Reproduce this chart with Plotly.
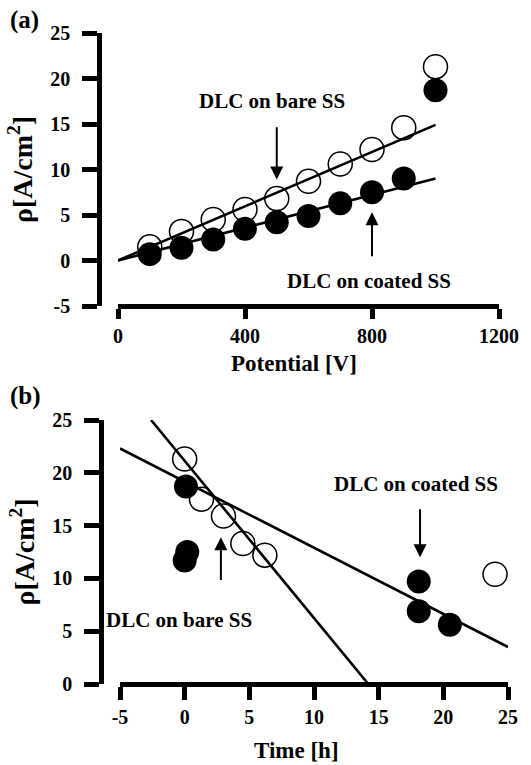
import plotly.graph_objects as go

# ---- Panel (a) data ----
potential = [100, 200, 300, 400, 500, 600, 700, 800, 900, 1000]
rho_bare_a = [1.5, 3.2, 4.5, 5.6, 6.8, 8.7, 10.6, 12.2, 14.6, 21.3]
rho_coated_a = [0.7, 1.4, 2.3, 3.5, 4.2, 4.9, 6.3, 7.5, 9.0, 18.7]
fit_a_x = [0, 1000]
fit_bare_a = [0, 14.9]
fit_coated_a = [0, 9.0]
ticks_a_x = [0, 400, 800, 1200]
ticks_a_y = [-5, 0, 5, 10, 15, 20, 25]

# ---- Panel (b) data ----
time_bare = [0, 1.3, 3.0, 4.5, 6.2, 24.0]
rho_bare_b = [21.3, 17.5, 15.9, 13.3, 12.2, 10.4]
time_coated = [0.1, 0.2, 0.0, 18.1, 18.1, 20.5]
rho_coated_b = [18.7, 12.5, 11.7, 9.7, 6.9, 5.6]
fit_steep_x = [-2.6, 14.2]
fit_steep_y = [25.0, 0.0]
fit_shallow_x = [-5, 25]
fit_shallow_y = [22.3, 3.5]
ticks_b_x = [-5, 0, 5, 10, 15, 20, 25]
ticks_b_y = [0, 5, 10, 15, 20, 25]

W, H = 531, 765
FONT = "Liberation Serif, Times New Roman, serif"
MS = 24

fig = go.Figure()

def line_trace(x, y, xa, ya):
    return go.Scatter(x=x, y=y, mode="lines", line=dict(color="black", width=2.6),
                      xaxis=xa, yaxis=ya, showlegend=False, hoverinfo="skip")

def open_trace(x, y, xa, ya):
    return go.Scatter(x=x, y=y, mode="markers",
                      marker=dict(symbol="circle-open", size=MS, color="black",
                                  line=dict(width=1.5, color="black")),
                      xaxis=xa, yaxis=ya, showlegend=False, cliponaxis=False)

def filled_trace(x, y, xa, ya):
    return go.Scatter(x=x, y=y, mode="markers",
                      marker=dict(symbol="circle", size=MS, color="black",
                                  line=dict(width=0)),
                      xaxis=xa, yaxis=ya, showlegend=False, cliponaxis=False)

# panel (a)
fig.add_trace(line_trace(fit_a_x, fit_bare_a, "x", "y"))
fig.add_trace(line_trace(fit_a_x, fit_coated_a, "x", "y"))
fig.add_trace(open_trace(potential, rho_bare_a, "x", "y"))
fig.add_trace(filled_trace(potential, rho_coated_a, "x", "y"))

# panel (b)
fig.add_trace(line_trace(fit_steep_x, fit_steep_y, "x2", "y2"))
fig.add_trace(line_trace(fit_shallow_x, fit_shallow_y, "x2", "y2"))
fig.add_trace(open_trace(time_bare, rho_bare_b, "x2", "y2"))
fig.add_trace(filled_trace(time_coated, rho_coated_b, "x2", "y2"))

def lab(v):
    return "<b>%s</b>" % ("-%d" % abs(v) if v < 0 else "%d" % v)

axis_common = dict(showline=True, linewidth=4.5, linecolor="black", showgrid=False,
                   zeroline=False, ticks="outside", tickwidth=4.5, tickcolor="black",
                   automargin=False,
                   tickfont=dict(family=FONT, size=20, color="black", weight="bold"))

def ytitle():
    return dict(text="ρ[A/cm<sup>2</sup>]",
                font=dict(family=FONT, size=28, color="black", weight="bold"), standoff=8)

A_BOT, A_TOP = 306, 33     # pixel rows of panel (a) y-range ends
B_BOT, B_TOP = 684, 420    # pixel rows of panel (b) y-range ends

fig.update_layout(
    template="none",
    width=W, height=H, margin=dict(l=0, r=0, t=0, b=0, pad=0),
    paper_bgcolor="white", plot_bgcolor="white", showlegend=False,
    font=dict(family=FONT, color="black", weight="bold"),
    xaxis=dict(domain=[118 / W, 499 / W], range=[0, 1200], anchor="free",
               position=1 - A_BOT / H,
               tickvals=ticks_a_x, ticktext=[lab(v) for v in ticks_a_x], ticklen=10,
               ticklabelstandoff=0, **axis_common),
    yaxis=dict(domain=[1 - A_BOT / H, 1 - A_TOP / H], range=[-5, 25], anchor="free",
               position=99 / W, tickvals=ticks_a_y, ticktext=[lab(v) for v in ticks_a_y],
               ticklen=15, ticklabelstandoff=8, title=ytitle(), **axis_common),
    xaxis2=dict(domain=[120 / W, 508 / W], range=[-5, 25], anchor="free",
                position=1 - B_BOT / H,
                tickvals=ticks_b_x, ticktext=[lab(v) for v in ticks_b_x], ticklen=13,
                ticklabelstandoff=0, **axis_common),
    yaxis2=dict(domain=[1 - B_BOT / H, 1 - B_TOP / H], range=[0, 25], anchor="free",
                position=101 / W, tickvals=ticks_b_y, ticktext=[lab(v) for v in ticks_b_y],
                ticklen=15, ticklabelstandoff=8, title=ytitle(), **axis_common),
)

annots = []
def text_ann(txt, x, y, xr, yr, size=21):
    annots.append(dict(text=txt, x=x, y=y, xref=xr, yref=yr, showarrow=False,
                       font=dict(family=FONT, size=size, color="black", weight="bold"),
                       xanchor="center", yanchor="middle"))

def arrow_ann(x, y_tail, y_head, xr, yr):
    annots.append(dict(text="", x=x, y=y_head, ax=x, ay=y_tail, xref=xr, yref=yr,
                       axref=xr, ayref=yr, showarrow=True, arrowhead=2,
                       arrowsize=1.3, arrowwidth=2, arrowcolor="black"))

# x-axis titles (placed slightly left of centre, as in the original)
text_ann("Potential [V]", 294 / W, 1 - 363 / H, "paper", "paper", size=23)
text_ann("Time [h]", 296 / W, 1 - 750 / H, "paper", "paper", size=23)

text_ann("DLC on bare SS", 485, 17.5, "x", "y")
arrow_ann(500, 14.8, 8.9, "x", "y")
text_ann("DLC on coated SS", 790, -2.25, "x", "y")
arrow_ann(800, 0.3, 5.3, "x", "y")

text_ann("DLC on coated SS", 17.9, 18.9, "x2", "y2")
arrow_ann(18.2, 16.7, 12.0, "x2", "y2")
text_ann("DLC on bare SS", -0.44, 6.06, "x2", "y2")
arrow_ann(2.8, 9.7, 13.9, "x2", "y2")

for lbl, ypix in [("(a)", 20), ("(b)", 396)]:
    annots.append(dict(text=lbl, x=8 / W, y=1 - ypix / H, xref="paper", yref="paper",
                       xanchor="left", yanchor="middle", showarrow=False,
                       font=dict(family=FONT, size=25, color="black", weight="bold")))

fig.update_layout(annotations=annots)
fig.write_html("out.html")
